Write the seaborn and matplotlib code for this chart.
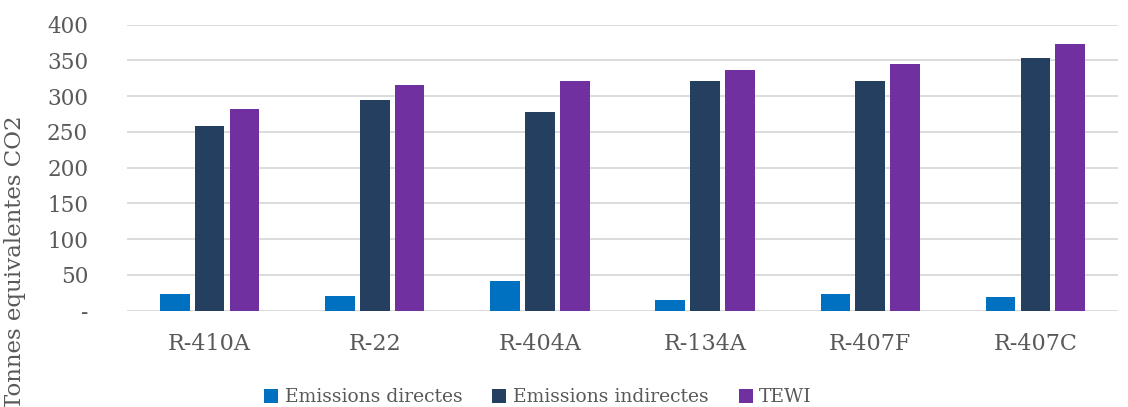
import pandas as pd
import seaborn as sns
import matplotlib.pyplot as plt

# Emissions par fluide frigorigène (tonnes équivalentes CO2)
refrigerants = ['R-410A', 'R-22', 'R-404A', 'R-134A', 'R-407F', 'R-407C']
emissions_directes = [23, 20, 41, 15, 23, 19]
emissions_indirectes = [258, 294, 278, 321, 321, 354]
tewi = [282, 315, 321, 336, 345, 373]
series = ['Emissions directes', 'Emissions indirectes', 'TEWI']
colors = ['#0070C0', '#243F60', '#7030A0']
yticks = [0, 50, 100, 150, 200, 250, 300, 350, 400]
ytick_labels = ['-', '50', '100', '150', '200', '250', '300', '350', '400']

df = pd.DataFrame({
    'Fluide': refrigerants * 3,
    'Serie': [s for s in series for _ in refrigerants],
    'Valeur': emissions_directes + emissions_indirectes + tewi,
})

sns.set_style('white')
plt.rcParams['font.family'] = ['DejaVu Serif']
text_color = '#595959'

fig, ax = plt.subplots(figsize=(11.28, 4.07), dpi=100)
fig.subplots_adjust(left=127 / 1128, right=1118 / 1128,
                    top=1 - 24.7 / 407, bottom=1 - 310.7 / 407)

sns.barplot(data=df, x='Fluide', y='Valeur', hue='Serie', hue_order=series,
            palette=colors, saturation=1, width=0.633, gap=0.15, linewidth=0,
            errorbar=None, ax=ax, zorder=3)

ax.set_ylim(0, 400)
ax.set_xlim(-0.5, 5.5)
ax.set_yticks(yticks)
ax.set_yticklabels(ytick_labels)
ax.yaxis.grid(True, color='#d9d9d9', linewidth=1.3, zorder=0)
ax.set_axisbelow(True)
for s in ax.spines.values():
    s.set_visible(False)
ax.tick_params(axis='both', length=0, colors=text_color)
ax.tick_params(axis='x', labelsize=16, pad=16)
ax.tick_params(axis='y', labelsize=15.5, pad=28)
ax.set_xlabel('')
ax.set_ylabel('')
fig.text(15 / 1128, 1 - 262 / 407, 'Tonnes equivalentes CO2', rotation=90,
         va='center', ha='center', fontsize=16.5, color=text_color)

handles, labels = ax.get_legend_handles_labels()
ax.legend_.remove()
fig.legend(handles, labels, loc='lower center', bbox_to_anchor=(0.477, -0.04),
           ncol=3, frameon=False, handlelength=0.75, handleheight=0.75,
           handletextpad=0.35, columnspacing=1.6, fontsize=13.5,
           labelcolor=text_color)

fig.savefig('out.png', dpi=100)
